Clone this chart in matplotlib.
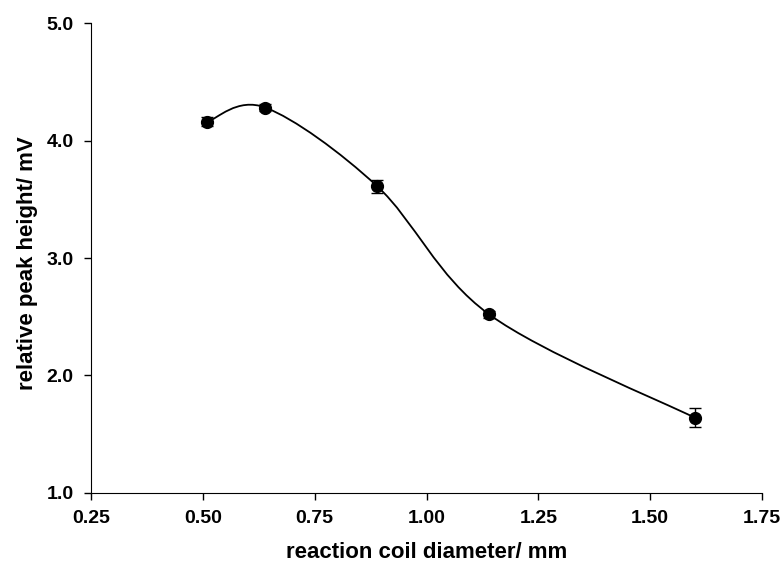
import numpy as np
import matplotlib.pyplot as plt
from matplotlib.path import Path
from matplotlib.patches import PathPatch

# data
diameter = [0.51, 0.64, 0.89, 1.14, 1.60]
peak_height = [4.16, 4.28, 3.61, 2.52, 1.64]
peak_err = [0.04, 0.03, 0.055, 0.03, 0.08]

plt.rcParams['font.family'] = ['Liberation Sans', 'DejaVu Sans']
plt.rcParams['font.weight'] = 'bold'

fig = plt.figure(figsize=(7.81, 5.64), dpi=100)
ax = fig.add_axes([0.1165, 0.1259, 0.8592, 0.8333])

xlim = (0.25, 1.75)
ylim = (1.0, 5.0)
ax.set_xlim(*xlim)
ax.set_ylim(*ylim)

# smoothed line (Excel-like Bezier) computed in normalised axis space
xs = (np.array(diameter) - xlim[0]) / (xlim[1] - xlim[0]) * 859.2
ys = (np.array(peak_height) - ylim[0]) / (ylim[1] - ylim[0]) * 470.0
pts = np.column_stack([xs, ys])
n = len(pts)
verts = [pts[0]]
codes = [Path.MOVETO]
for i in range(n - 1):
    p0 = pts[i - 1] if i > 0 else pts[i]
    p1 = pts[i]
    p2 = pts[i + 1]
    p3 = pts[i + 2] if i + 2 < n else pts[i + 1]
    c1 = p1 + (p2 - p0) / 6.0
    c2 = p2 - (p3 - p1) / 6.0
    verts += [c1, c2, p2]
    codes += [Path.CURVE4] * 3
verts = np.array(verts)
verts[:, 0] = verts[:, 0] / 859.2 * (xlim[1] - xlim[0]) + xlim[0]
verts[:, 1] = verts[:, 1] / 470.0 * (ylim[1] - ylim[0]) + ylim[0]
ax.add_patch(PathPatch(Path(verts, codes), facecolor='none', edgecolor='black', lw=1.3))

ax.errorbar(diameter, peak_height, yerr=peak_err, fmt='o', color='black',
            markersize=8.5, capsize=4, elinewidth=1, capthick=1, zorder=3)

ax.spines['top'].set_visible(False)
ax.spines['right'].set_visible(False)
ax.set_xticks([0.25, 0.50, 0.75, 1.00, 1.25, 1.50, 1.75])
ax.set_xticklabels(['0.25', '0.50', '0.75', '1.00', '1.25', '1.50', '1.75'])
ax.set_yticks([1.0, 2.0, 3.0, 4.0, 5.0])
ax.set_yticklabels(['1.0', '2.0', '3.0', '4.0', '5.0'])
ax.tick_params(direction='out', length=5, width=1, labelsize=14, pad=7.5)
for lab in ax.get_xticklabels() + ax.get_yticklabels():
    lab.set_fontweight('bold')

ax.set_xlabel('reaction coil diameter/ mm', fontsize=16, fontweight='bold')
ax.set_ylabel('relative peak height/ mV', fontsize=16, fontweight='bold')
ax.xaxis.set_label_coords(0.5, -0.104)
ax.yaxis.set_label_coords(-0.079, 0.489)

plt.savefig('out.png', dpi=100)
